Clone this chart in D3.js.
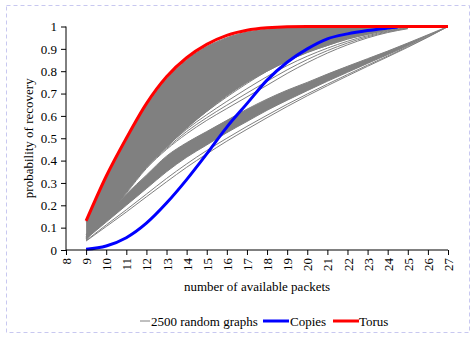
<!DOCTYPE html>
<html>
<head>
<meta charset="utf-8">
<script src="https://cdn.jsdelivr.net/npm/d3@7"></script>
<style>
  html, body { margin: 0; padding: 0; background: #fff; }
  svg { display: block; }
  text { font-family: "Liberation Serif", "Times New Roman", serif; fill: #000; }
</style>
</head>
<body>
<svg id="chart" width="476" height="339"></svg>
<script>
// ---------- data ----------
const xTicks = [8,9,10,11,12,13,14,15,16,17,18,19,20,21,22,23,24,25,26,27];
const yTicks = [0,0.1,0.2,0.3,0.4,0.5,0.6,0.7,0.8,0.9,1];

const torusX = [9,10,11,12,13,14,15,16,17,18,19,20,21,22,23,24,25,26,27];
const torusY = [0.13,0.33,0.50,0.655,0.775,0.86,0.92,0.96,0.983,0.994,0.999,1,1,1,1,1,1,1,1];

const copiesX = [9,10,11,12,13,14,15,16,17,18,19,20,21,22,23,24,24.5];
const copiesY = [0.003,0.018,0.055,0.12,0.21,0.315,0.43,0.55,0.655,0.76,0.84,0.9,0.945,0.967,0.982,0.993,0.998];

// envelope of the dense upper fan of random graphs
const fanX      = [9,10,11,12,13,14,15,16,17,18,19,20,21,22,23,24,25];
const fanTop    = [0.125,0.32,0.49,0.645,0.765,0.85,0.91,0.95,0.975,0.988,0.995,0.998,1,1,1,1,1];
const fanBottom = [0.045,0.15,0.26,0.37,0.46,0.545,0.62,0.69,0.75,0.8,0.845,0.885,0.915,0.945,0.965,0.985,1];

// lower cluster of random graphs (ending at 27)
const lowX      = [9,10,11,12,13,14,15,16,17,18,19,20,21,22,23,24,25,26,27];
const lowTop    = [0.07,0.16,0.25,0.335,0.42,0.48,0.53,0.58,0.63,0.675,0.715,0.75,0.787,0.822,0.856,0.89,0.926,0.963,1];
const lowBottom = [0.05,0.125,0.2,0.275,0.35,0.415,0.47,0.525,0.575,0.625,0.67,0.713,0.755,0.795,0.835,0.874,0.914,0.957,1];
const lowLine1  = [0.042,0.112,0.18,0.25,0.32,0.385,0.445,0.5,0.553,0.603,0.652,0.698,0.742,0.785,0.827,0.868,0.91,0.954,1];
const lowLine2  = [0.04,0.105,0.17,0.238,0.305,0.37,0.43,0.487,0.54,0.592,0.642,0.69,0.735,0.779,0.822,0.864,0.907,0.952,1];

// separate random-graph curves leaving the fan (ending at 25)
const midX   = [9,10,11,12,13,14,15,16,17,18,19,20,21,22,23,24,25];
const mid1   = [0.06,0.16,0.27,0.38,0.47,0.55,0.62,0.685,0.745,0.8,0.845,0.883,0.915,0.943,0.965,0.982,0.996];
const mid2   = [0.058,0.157,0.265,0.375,0.462,0.54,0.605,0.665,0.722,0.776,0.825,0.867,0.903,0.934,0.959,0.979,0.994];
const mid3   = [0.055,0.154,0.26,0.37,0.455,0.53,0.592,0.648,0.702,0.755,0.806,0.852,0.892,0.926,0.954,0.976,0.992];
const mid4   = [0.052,0.15,0.255,0.365,0.45,0.52,0.58,0.633,0.685,0.737,0.79,0.838,0.881,0.918,0.949,0.973,0.99];

const legendLabels = ["2500 random graphs", "Copies", "Torus"];

// ---------- layout ----------
const svg = d3.select("#chart");
const plot = {left: 66, right: 448, top: 26.5, bottom: 250};

svg.append("rect")
  .attr("x", 6.5).attr("y", 5.5).attr("width", 463).attr("height", 327)
  .attr("fill", "none").attr("stroke", "#c8c8f0").attr("stroke-width", 1)
  .attr("stroke-dasharray", "4,3");

const x = d3.scaleLinear().domain([8, 27]).range([plot.left, plot.right]);
const y = d3.scaleLinear().domain([0, 1]).range([plot.bottom, plot.top]);

const GRAY = "#808080";

const area = (xs, top, bot) => d3.area()
  .x((d, i) => x(xs[i])).y0((d, i) => y(bot[i])).y1((d, i) => y(top[i]))
  .curve(d3.curveMonotoneX)(xs);
const line = (xs, ys) => d3.line()
  .x((d, i) => x(xs[i])).y((d, i) => y(ys[i]))
  .curve(d3.curveMonotoneX)(xs);

const g = svg.append("g");
const thin = (xs, ys) => g.append("path").attr("d", line(xs, ys))
  .attr("fill", "none").attr("stroke", GRAY).attr("stroke-width", 1);

// random graphs
g.append("path").attr("d", area(lowX, lowTop, lowBottom)).attr("fill", GRAY);
thin(lowX, lowTop); thin(lowX, lowBottom); thin(lowX, lowLine1); thin(lowX, lowLine2);
[mid1, mid2, mid3, mid4].forEach(m => thin(midX, m));
g.append("path").attr("d", area(fanX, fanTop, fanBottom)).attr("fill", GRAY);
thin(fanX, fanTop); thin(fanX, fanBottom);

// copies and torus
g.append("path").attr("d", line(copiesX, copiesY)).attr("fill", "none").attr("stroke", "#0000ff").attr("stroke-width", 3);
g.append("path").attr("d", line(torusX, torusY)).attr("fill", "none").attr("stroke", "#ff0000").attr("stroke-width", 3);

// axes
const yAxis = d3.axisLeft(y).tickValues(yTicks).tickSize(5).tickPadding(4)
  .tickFormat(d => d === 0 ? "0" : d === 1 ? "1" : d3.format(".1f")(d));
const ya = svg.append("g").attr("transform", `translate(${plot.left},0)`).call(yAxis);
ya.select(".domain").attr("d", `M0,${plot.top}V${plot.bottom}`).attr("stroke", "#000");
ya.selectAll("text").attr("font-size", 13).attr("font-family", "Liberation Serif");

const xAxis = d3.axisBottom(x).tickValues(xTicks).tickSize(5).tickFormat(d3.format("d"));
const xa = svg.append("g").attr("transform", `translate(0,${plot.bottom})`).call(xAxis);
xa.select(".domain").attr("d", `M${plot.left},0H${plot.right}`).attr("stroke", "#000");
xa.selectAll("text")
  .attr("font-size", 13).attr("font-family", "Liberation Serif")
  .attr("transform", "rotate(-90)")
  .attr("text-anchor", "end")
  .attr("x", -8).attr("y", 0).attr("dy", "0.35em");

// titles
svg.append("text").attr("x", (plot.left + plot.right) / 2).attr("y", 291)
  .attr("text-anchor", "middle").attr("font-size", 13).text("number of available packets");
svg.append("text").attr("transform", `translate(33,${(plot.top + plot.bottom) / 2}) rotate(-90)`)
  .attr("text-anchor", "middle").attr("font-size", 13).text("probability of recovery");

// legend
const ly = 321;
const legend = [
  {x1: 140, x2: 150, color: GRAY, w: 1, tx: 151, label: legendLabels[0]},
  {x1: 263, x2: 289, color: "#0000ff", w: 3, tx: 290, label: legendLabels[1]},
  {x1: 333, x2: 359, color: "#ff0000", w: 3, tx: 359, label: legendLabels[2]}
];
legend.forEach(l => {
  svg.append("line").attr("x1", l.x1).attr("x2", l.x2).attr("y1", ly).attr("y2", ly)
    .attr("stroke", l.color).attr("stroke-width", l.w);
  svg.append("text").attr("x", l.tx).attr("y", ly + 4.5).attr("font-size", 13).text(l.label);
});
</script>
</body>
</html>
